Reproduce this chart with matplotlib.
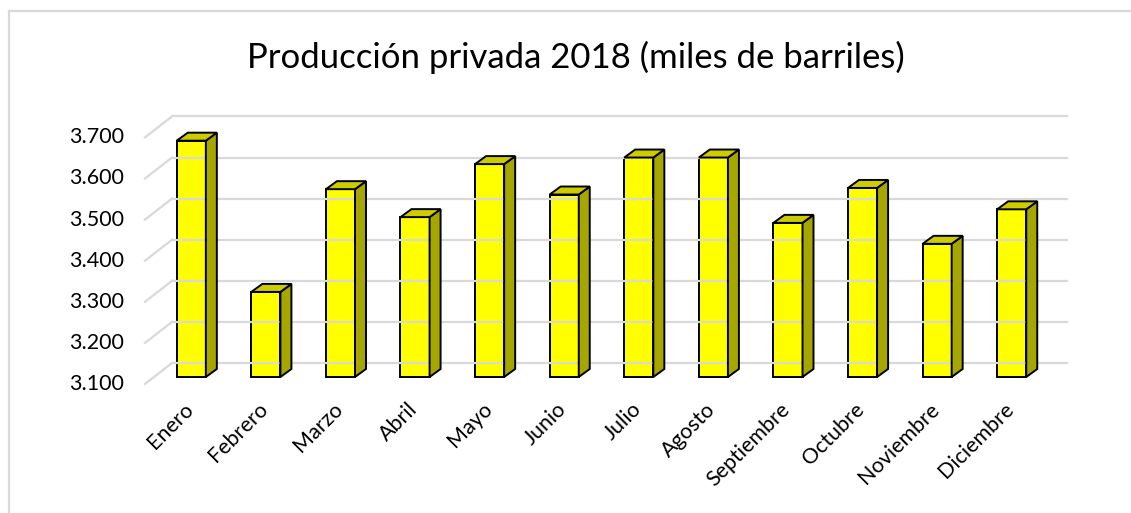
import matplotlib
matplotlib.use("Agg")
import matplotlib.pyplot as plt
from matplotlib.patches import Polygon
from matplotlib.lines import Line2D
import numpy as np

meses = ["Enero", "Febrero", "Marzo", "Abril", "Mayo", "Junio", "Julio",
         "Agosto", "Septiembre", "Octubre", "Noviembre", "Diciembre"]
produccion = [3675, 3307, 3557, 3489, 3618, 3544, 3634, 3634, 3475, 3560, 3424, 3508]
y_ticks = [3100, 3200, 3300, 3400, 3500, 3600, 3700]
y_labels = ["3.100", "3.200", "3.300", "3.400", "3.500", "3.600", "3.700"]
titulo = "Producción privada 2018 (miles de barriles)"

W, H = 1131, 513
DPI = 100
plt.rcParams['font.family'] = ['Lato', 'DejaVu Sans']
fig = plt.figure(figsize=(W / DPI, H / DPI), dpi=DPI)

# chart area border
fig.add_artist(Line2D([9 / W, 9 / W], [0, 1 - 11 / H], color="#d9d9d9", lw=1.6,
                      transform=fig.transFigure))
fig.add_artist(Line2D([9 / W, 1], [1 - 11 / H, 1 - 11 / H], color="#d9d9d9", lw=1.6,
                      transform=fig.transFigure))

# axes = front plane of the bars
left_px, right_px = 154, 1049
bot_px, top_px = 377, 130.4
ax = fig.add_axes([left_px / W, 1 - bot_px / H, (right_px - left_px) / W,
                   (bot_px - top_px) / H])
ax.set_xlim(-0.5, len(meses) - 0.5)
ax.set_ylim(3100, 3700)
for s in ax.spines.values():
    s.set_visible(False)
ax.set_xticks([])
ax.set_yticks([])
ax.patch.set_alpha(0)

td = ax.transData
# depth offsets (pixels) relative to the bar front plane
BACK = (18, 14)     # back wall
FRONT = (-9, -7)    # front edge of floor
DX, DY = 11, 8      # bar depth

# gridlines on back wall + slanted lines on the side wall
for v in y_ticks:
    x0, y0 = td.transform((-0.5, v))
    x1, y1 = td.transform((len(meses) - 0.5, v))
    fig.add_artist(Line2D([x0 + BACK[0], x1 + BACK[0]], [y0 + BACK[1], y1 + BACK[1]],
                          color="#d9d9d9", lw=1.6, transform=None, zorder=1))
    fig.add_artist(Line2D([x0 + FRONT[0], x0 + BACK[0]], [y0 + FRONT[1], y0 + BACK[1]],
                          color="#d9d9d9", lw=1.6, transform=None, zorder=1))

# tick labels at the front edge
for v, lab in zip(y_ticks, y_labels):
    x0, y0 = td.transform((-0.5, v))
    fig.text((x0 + FRONT[0] - 21) / W, (y0 + FRONT[1]) / H, lab, ha="right", va="center",
             fontsize=15.5, color="#000000")

# bars
bw = 0.39
xs = np.arange(len(meses))
bars = ax.bar(xs, [p - 3100 for p in produccion], bottom=3100, width=bw,
              color="#FFFF00", edgecolor="black", linewidth=1.4, zorder=5, clip_on=False)

for x, p in zip(xs, produccion):
    xl, yb = td.transform((x - bw / 2, 3100))
    xr, yt = td.transform((x + bw / 2, p))
    side = Polygon([(xr, yb), (xr, yt), (xr + DX, yt + DY), (xr + DX, yb + DY)],
                   closed=True, facecolor="#A6A600", edgecolor="black", lw=1.4,
                   transform=None, zorder=4)
    top = Polygon([(xl, yt), (xr, yt), (xr + DX, yt + DY), (xl + DX, yt + DY)],
                  closed=True, facecolor="#CCCC00", edgecolor="black", lw=1.4,
                  transform=None, zorder=4)
    fig.add_artist(side)
    fig.add_artist(top)

# x labels
for x, m in zip(xs, meses):
    xc, yb = td.transform((x, 3100))
    fig.text((xc - 8) / W, (yb - 22) / H, m, ha="right", va="top", rotation=45,
             rotation_mode="anchor", fontsize=15.5, color="#000000")

fig.text(576 / W, 1 - 57 / H, titulo, ha="center", va="center", fontsize=25,
         color="#000000")

fig.savefig("out.png", dpi=DPI)
